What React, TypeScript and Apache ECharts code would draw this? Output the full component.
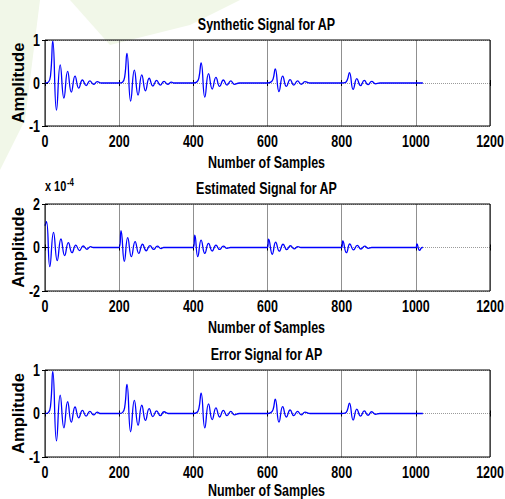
import React, { useEffect, useRef } from 'react';
import * as echarts from 'echarts';

// ---------- data ----------
const xMin = 0;
const xMax = 1200;
const xInterval = 200;
const signalEnd = 1019;
const xTicks = [0, 200, 400, 600, 800, 1000, 1200];
const yTicks = [[-1, 0, 1], [-2, 0, 2], [-1, 0, 1]];

// Synthetic signal: damped pulses every 200 samples, [sample, amplitude]
const synBurst1 = [[0, 0], [9, 0.02], [15, 0.18], [21, 0.98], [31, -0.63], [41, 0.42], [51, -0.35], [61, 0.27], [71, -0.21], [81, 0.16], [91, -0.12], [101, 0.07], [111, -0.06], [121, 0.05], [131, -0.03], [141, 0.03], [151, 0]];
const synBurst2 = [[200, 0], [209, 0.02], [215, 0.15], [221, 0.69], [231, -0.42], [241, 0.3], [251, -0.28], [261, 0.19], [271, -0.18], [281, 0.11], [291, -0.07], [301, 0.06], [311, -0.05], [321, 0.04], [331, -0.03], [341, 0.02], [347, 0]];
const synBurst3 = [[400, 0], [409, 0.02], [415, 0.12], [421, 0.47], [431, -0.33], [441, 0.22], [451, -0.14], [461, 0.13], [471, -0.08], [481, 0.07], [491, -0.05], [501, 0.05], [511, -0.03], [524, 0]];
const synBurst4 = [[600, 0], [609, 0.02], [615, 0.09], [621, 0.33], [631, -0.2], [641, 0.16], [651, -0.08], [661, 0.08], [671, -0.05], [681, 0.05], [691, -0.03], [701, 0.03], [715, 0]];
const synBurst5 = [[800, 0], [809, 0.01], [815, 0.07], [821, 0.24], [831, -0.15], [841, 0.1], [851, -0.06], [861, 0.06], [871, -0.04], [881, 0.04], [891, -0.02], [903, 0]];

// Estimated signal, in units of 1e-4
const estBurst1 = [[0, 1.0], [4, 1.19], [13, -0.88], [23, 0.7], [33, -0.6], [43, 0.39], [53, -0.37], [63, 0.22], [73, -0.24], [83, 0.11], [93, -0.14], [103, 0.07], [113, -0.08], [123, 0.04], [130, 0]];
const estBurst2 = [[200, 0], [205, 0.78], [214, -0.64], [223, 0.45], [233, -0.42], [243, 0.27], [253, -0.27], [263, 0.15], [273, -0.15], [283, 0.09], [293, -0.09], [303, 0.06], [313, -0.05], [320, 0]];
const estBurst3 = [[400, 0], [404, 0.57], [412, -0.42], [421, 0.34], [431, -0.27], [441, 0.19], [451, -0.16], [461, 0.11], [471, -0.09], [481, 0.06], [491, -0.04], [500, 0]];
const estBurst4 = [[600, 0], [603, 0.38], [613, -0.31], [622, 0.25], [632, -0.17], [642, 0.15], [652, -0.1], [662, 0.08], [672, -0.06], [682, 0.04], [690, 0]];
const estBurst5 = [[800, 0], [803, 0.3], [813, -0.24], [822, 0.16], [832, -0.11], [842, 0.1], [852, -0.07], [862, 0.06], [872, -0.04], [881, 0]];
const estBurst6 = [[1000, 0], [1003, 0.16], [1010, -0.13], [1017, 0]];

// Error signal
const errBurst1 = [[0, 0], [9, 0.02], [15, 0.18], [21, 0.97], [31, -0.63], [41, 0.42], [51, -0.33], [61, 0.27], [71, -0.2], [81, 0.15], [91, -0.1], [101, 0.07], [111, -0.06], [121, 0.05], [131, -0.03], [141, 0.03], [148, 0]];
const errBurst2 = [[200, 0], [209, 0.02], [215, 0.15], [221, 0.67], [231, -0.42], [241, 0.3], [251, -0.27], [261, 0.19], [271, -0.16], [281, 0.11], [291, -0.07], [301, 0.06], [311, -0.05], [321, 0.04], [332, 0]];
const errBurst3 = [[400, 0], [409, 0.02], [415, 0.12], [421, 0.47], [431, -0.33], [441, 0.22], [451, -0.14], [461, 0.13], [471, -0.08], [481, 0.07], [491, -0.05], [501, 0.05], [511, -0.03], [524, 0]];
const errBurst4 = [[600, 0], [609, 0.02], [615, 0.09], [621, 0.33], [631, -0.2], [641, 0.16], [651, -0.08], [661, 0.08], [671, -0.05], [681, 0.05], [691, -0.03], [701, 0.03], [715, 0]];
const errBurst5 = [[800, 0], [809, 0.01], [815, 0.07], [821, 0.24], [831, -0.15], [841, 0.1], [851, -0.06], [861, 0.06], [871, -0.04], [881, 0.04], [891, -0.02], [903, 0]];

const syntheticData = [...synBurst1, ...synBurst2, ...synBurst3, ...synBurst4, ...synBurst5, [signalEnd, 0]];
const estimatedData = [...estBurst1, ...estBurst2, ...estBurst3, ...estBurst4, ...estBurst5, ...estBurst6, [signalEnd, 0]];
const errorData = [...errBurst1, ...errBurst2, ...errBurst3, ...errBurst4, ...errBurst5, [signalEnd, 0]];

const panelTitles = ['Synthetic Signal for AP', 'Estimated Signal for AP', 'Error Signal for AP'];
const xName = 'Number of Samples';
const yName = 'Amplitude';
const estScaleBase = 'x 10';
const estScaleExp = '-4';

const FAMILY = '"Liberation Sans", Arial, Helvetica, sans-serif';
const SQUISH = 0.78;

export default function App() {
  const ref = useRef<HTMLDivElement>(null);
  useEffect(() => {
    document.body.style.margin = '0';
    if (!ref.current) return;
    const chart = echarts.init(ref.current, null, { renderer: 'svg' });

    const gridTops = [40, 204, 370];
    const gridHeights = [86, 87, 87];
    const nameOffsets = [36, 36, 33];

    const grids = gridTops.map((t, i) => ({
      left: 45, right: 15, top: t, height: gridHeights[i],
      containLabel: false, outerBoundsMode: 'none',
      show: true, borderColor: '#000', borderWidth: 1, backgroundColor: 'transparent', z: 10,
    }));

    const tick = { show: true, inside: true, length: 3, lineStyle: { color: '#000' } };
    const xAxes: any[] = [];
    const yAxes: any[] = [];
    gridTops.forEach((_, i) => {
      xAxes.push({
        type: 'value', gridIndex: i, position: 'bottom', min: xMin, max: xMax, interval: xInterval,
        axisLine: { show: false }, axisTick: tick, axisLabel: { show: false },
        splitLine: { show: true, lineStyle: { color: '#909090', width: 1 } },
      });
      xAxes.push({
        type: 'value', gridIndex: i, position: 'top', min: xMin, max: xMax, interval: xInterval,
        axisLine: { show: false }, axisTick: tick, axisLabel: { show: false }, splitLine: { show: false },
      });
      const t = yTicks[i];
      yAxes.push({
        type: 'value', gridIndex: i, position: 'left', min: t[0], max: t[2], interval: t[2],
        axisLine: { show: false }, axisTick: tick, axisLabel: { show: false },
        splitLine: { show: true, lineStyle: { color: '#9a9a9a', width: 1, type: 'dotted' } },
        name: yName, nameLocation: 'middle', nameGap: 19, nameRotate: 90,
        nameTextStyle: { color: '#000', fontFamily: FAMILY, fontSize: 16.5, fontWeight: 'bold' },
      });
      yAxes.push({
        type: 'value', gridIndex: i, position: 'right', min: t[0], max: t[2], interval: t[2],
        axisLine: { show: false }, axisTick: tick, axisLabel: { show: false }, splitLine: { show: false },
      });
    });

    const datasets = [syntheticData, estimatedData, errorData];
    const series = datasets.map((d, i) => ({
      type: 'line', xAxisIndex: i * 2, yAxisIndex: i * 2, data: d,
      showSymbol: false, symbol: 'none', smooth: 0.5,
      lineStyle: { color: '#0000ff', width: 1.3 }, z: 5,
    }));

    chart.setOption({
      animation: false,
      backgroundColor: '#fff',
      grid: grids,
      xAxis: xAxes,
      yAxis: yAxes,
      series,
    });

    // condensed-looking texts placed with the library's own scales
    const txt = (text: string, x: number, y: number, align: string, size = 16) => ({
      type: 'text', x, y, scaleX: SQUISH, z: 20, silent: true,
      style: { text, fill: '#000', font: `bold ${size}px ${FAMILY}`, align, verticalAlign: 'middle' },
    });
    const graphics: any[] = [
      { type: 'polygon', z: -10, silent: true, shape: { points: [[0, 0], [40, 0], [25, 120], [0, 170]] }, style: { fill: '#f1f7e8' } },
      { type: 'polygon', z: -10, silent: true, shape: { points: [[70, 0], [240, 0], [190, 25], [110, 45]] }, style: { fill: '#f1f7e8' } },
    ];
    gridTops.forEach((_, i) => {
      const yb = chart.convertToPixel({ yAxisIndex: i * 2 } as any, yTicks[i][0]) as number;
      const yt = chart.convertToPixel({ yAxisIndex: i * 2 } as any, yTicks[i][2]) as number;
      const xl = chart.convertToPixel({ xAxisIndex: i * 2 } as any, xMin) as number;
      const xr = chart.convertToPixel({ xAxisIndex: i * 2 } as any, xMax) as number;
      xTicks.forEach((v) => {
        const px = chart.convertToPixel({ xAxisIndex: i * 2 } as any, v) as number;
        graphics.push(txt(String(v), px, yb + 15.5, 'center'));
      });
      yTicks[i].forEach((v) => {
        const py = chart.convertToPixel({ yAxisIndex: i * 2 } as any, v) as number;
        graphics.push(txt(String(v), xl - 5, py, 'right'));
      });
      graphics.push(txt(panelTitles[i], (xl + xr) / 2 - 1, yt - 16, 'center'));
      graphics.push(txt(xName, (xl + xr) / 2 - 1, yb + nameOffsets[i], 'center'));
      if (i === 1) {
        graphics.push({
          type: 'text', x: xl, y: yt - 17, scaleX: SQUISH, z: 20, silent: true,
          style: {
            text: `${estScaleBase}{s|${estScaleExp}}`, fill: '#000', font: `bold 14px ${FAMILY}`,
            align: 'left', verticalAlign: 'middle',
            rich: { s: { fontFamily: FAMILY, fontWeight: 'bold', fontSize: 10, verticalAlign: 'top', padding: [0, 0, 9, 1] } },
          },
        });
      }
    });
    chart.setOption({ graphic: graphics });
    return () => chart.dispose();
  }, []);
  return <div ref={ref} style={{ width: 505, height: 499 }} />;
}
